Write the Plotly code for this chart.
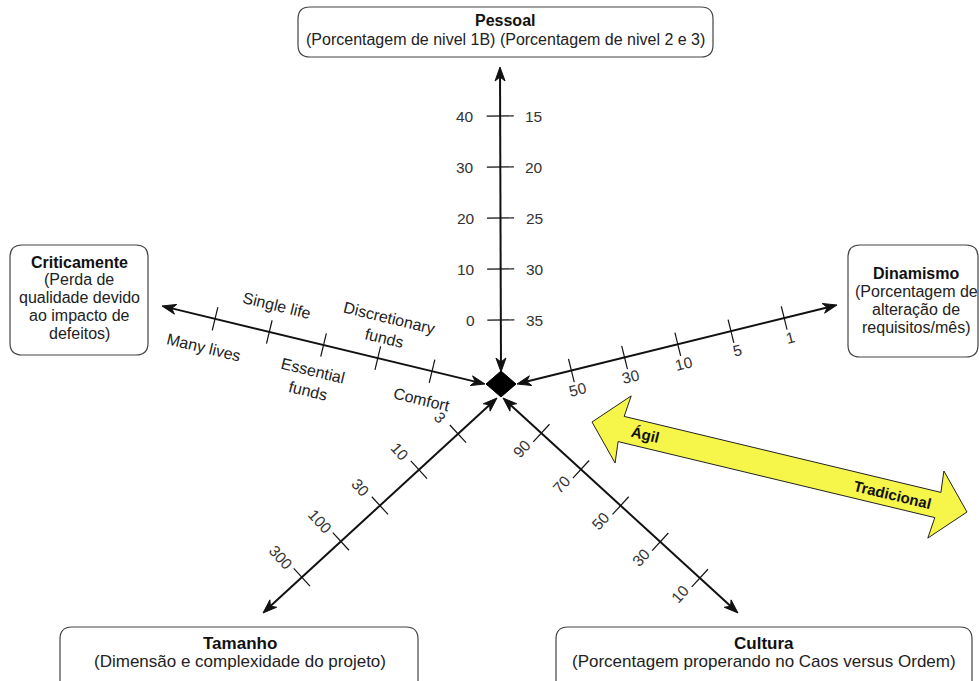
import math
import plotly.graph_objects as go

W, H = 979, 681
FONT = "Liberation Sans"

# ---------------- data (tick labels, from the centre outward) ----------------
pessoal_left = ["0", "10", "20", "30", "40"]
pessoal_right = ["35", "30", "25", "20", "15"]
criticamente_labels = ["Comfort", "Discretionary<br>funds", "Essential<br>funds", "Single life", "Many lives"]
criticamente_side = ["below", "above", "below", "above", "below"]
dinamismo_labels = ["50", "30", "10", "5", "1"]
tamanho_labels = ["3", "10", "30", "100", "300"]
cultura_labels = ["90", "70", "50", "30", "10"]

box_titles = ["Pessoal", "Criticamente", "Dinamismo", "Tamanho", "Cultura"]
box_lines = [
    ["(Porcentagem de nivel 1B) (Porcentagem de nivel 2 e 3)"],
    ["(Perda de", "qualidade devido", "ao impacto de", "defeitos)"],
    ["(Porcentagem de", "alteração de", "requisitos/mês)"],
    ["(Dimensão e complexidade do projeto)"],
    ["(Porcentagem properando no Caos versus Ordem)"],
]
band_labels = ["Ágil", "Tradicional"]

# ---------------- geometry ----------------
# axis: inner tip, outer tip, first tick distance, tick spacing, tick half length
axes_geo = {
    "pessoal": ((501, 372), (500, 67), 52, 51, 13.5),
    "criticamente": ((485, 384), (162, 306), 54.5, 55.8, 12),
    "dinamismo": ((517, 384), (837, 305), 56, 54.8, 12),
    "tamanho": ((497, 398), (263, 613), 53, 53, 12),
    "cultura": ((503, 398), (738, 613), 52, 53.7, 12),
}

shapes = []
annotations = []


def unit(p0, p1):
    dx, dy = p1[0] - p0[0], p1[1] - p0[1]
    L = math.hypot(dx, dy)
    return dx / L, dy / L, L


def arrowhead(tip, ux, uy, length=14, half=5, notch=4):
    bx, by = tip[0] - ux * length, tip[1] - uy * length
    nx, ny = -uy, ux
    lx, ly = bx + nx * half, by + ny * half
    rx, ry = bx - nx * half, by - ny * half
    cx, cy = tip[0] - ux * (length - notch), tip[1] - uy * (length - notch)
    path = f"M{tip[0]},{tip[1]} L{lx},{ly} L{cx},{cy} L{rx},{ry} Z"
    shapes.append(dict(type="path", path=path, xref="x", yref="y",
                       fillcolor="#111", line=dict(color="#111", width=1)))


def draw_axis(name):
    p0, p1, first, step, th = axes_geo[name]
    ux, uy, L = unit(p0, p1)
    shapes.append(dict(type="line", xref="x", yref="y",
                       x0=p0[0] + ux * 8, y0=p0[1] + uy * 8,
                       x1=p1[0] - ux * 8, y1=p1[1] - uy * 8,
                       line=dict(color="#111", width=2)))
    arrowhead(p1, ux, uy)
    arrowhead(p0, -ux, -uy)
    ticks = []
    nx, ny = -uy, ux
    for i in range(5):
        d = first + i * step
        tx, ty = p0[0] + ux * d, p0[1] + uy * d
        shapes.append(dict(type="line", xref="x", yref="y",
                           x0=tx + nx * th, y0=ty + ny * th,
                           x1=tx - nx * th, y1=ty - ny * th,
                           line=dict(color="#111", width=1.2)))
        ticks.append((tx, ty))
    return ticks, ux, uy


def text(x, y, s, size=16, angle=0, bold=False, color="#222", xanchor="center"):
    if bold:
        s = f"<b>{s}</b>"
    annotations.append(dict(x=x, y=y, xref="x", yref="y", text=s, showarrow=False,
                            textangle=angle, xanchor=xanchor, yanchor="middle",
                            font=dict(family=FONT, size=size, color=color)))


# ---- Pessoal (vertical) ----
ticks, ux, uy = draw_axis("pessoal")
for (tx, ty), l, r in zip(ticks, pessoal_left, pessoal_right):
    text(tx - 24, ty, l, size=15.5, xanchor="right", color="#333")
    text(tx + 23, ty, r, size=15.5, xanchor="left", color="#333")

# ---- Criticamente ----
ticks, ux, uy = draw_axis("criticamente")
ang = math.degrees(math.atan2(-uy, -ux))
below = (uy, -ux)
for (tx, ty), lab, side in zip(ticks, criticamente_labels, criticamente_side):
    two = "<br>" in lab
    off = (38 if two else 30) if side == "below" else -(31 if two else 27)
    along = 4 if side == "below" else -1
    x = tx + below[0] * off + ux * along
    y = ty + below[1] * off + uy * along
    text(x, y, lab, angle=ang)

# ---- Dinamismo ----
ticks, ux, uy = draw_axis("dinamismo")
ang = math.degrees(math.atan2(uy, ux))
below = (-uy, ux)
for (tx, ty), lab in zip(ticks, dinamismo_labels):
    x = tx + below[0] * 20 + ux * 1.5
    y = ty + below[1] * 20 + uy * 1.5
    text(x, y, lab, size=15.5, angle=ang, color="#333")

# ---- Tamanho ----
ticks, ux, uy = draw_axis("tamanho")
perp = (-uy, ux)          # towards upper-left
ang = math.degrees(math.atan2(-perp[1], -perp[0]))
for (tx, ty), lab in zip(ticks, tamanho_labels):
    off = 22 + 2.3 * len(lab)
    x = tx + perp[0] * off + ux * 1.8
    y = ty + perp[1] * off + uy * 1.8
    text(x, y, lab, size=15.5, angle=ang, color="#333")

# ---- Cultura ----
ticks, ux, uy = draw_axis("cultura")
perp = (-uy, ux)          # towards lower-left
ang = math.degrees(math.atan2(-perp[1], -perp[0]))
for (tx, ty), lab in zip(ticks, cultura_labels):
    off = 20 + 2.2 * len(lab)
    x = tx + perp[0] * off - ux * 4
    y = ty + perp[1] * off - uy * 4
    text(x, y, lab, size=15.5, angle=ang, color="#333")

# ---- centre diamond ----
cx, cy, hx, hy = 501, 384, 15, 13
shapes.append(dict(type="path", xref="x", yref="y",
                   path=f"M{cx},{cy-hy} L{cx+hx},{cy} L{cx},{cy+hy} L{cx-hx},{cy} Z",
                   fillcolor="#000", line=dict(color="#000", width=1)))


# ---- rounded boxes ----
def rbox(x0, y0, x1, y1, r=12):
    p = (f"M{x0+r},{y0} L{x1-r},{y0} Q{x1},{y0} {x1},{y0+r} "
         f"L{x1},{y1-r} Q{x1},{y1} {x1-r},{y1} L{x0+r},{y1} Q{x0},{y1} {x0},{y1-r} "
         f"L{x0},{y0+r} Q{x0},{y0} {x0+r},{y0} Z")
    shapes.append(dict(type="path", path=p, xref="x", yref="y",
                       fillcolor="rgba(0,0,0,0)", line=dict(color="#444", width=1.2)))


# rect, text centre x, title y, line height, font size
box_geo = [
    ((298, 7, 713, 57), 505, 20, 19, 16),
    ((10, 245, 148, 355), 79, 262, 17.8, 16),
    ((848, 245, 978, 357), 916, 273, 18, 16),
    ((60, 627, 418, 700), 240, 643, 18.5, 17),
    ((556, 627, 972, 700), 764, 643, 18.5, 17),
]
for (rect, tcx, ty0, lh, fs), title, lines in zip(box_geo, box_titles, box_lines):
    rbox(*rect)
    text(tcx, ty0, title, size=fs, bold=True, color="#111")
    for k, ln in enumerate(lines):
        text(tcx, ty0 + lh * (k + 1), ln, size=fs, color="#222")

# ---- yellow Ágil / Tradicional band ----
a0, a1 = (592, 422), (967, 512)
ux, uy, L = unit(a0, a1)
nx, ny = -uy, ux
hl, hw, sw = 30, 34.5, 13


def pt(along, norm):
    return a0[0] + ux * along + nx * norm, a0[1] + uy * along + ny * norm


pts = [pt(0, 0), pt(hl + 2, -hw), pt(hl, -sw), pt(L - hl, -sw), pt(L - hl - 2, -hw),
       pt(L, 0), pt(L - hl - 2, hw), pt(L - hl, sw), pt(hl, sw), pt(hl + 2, hw)]
path = "M" + " L".join(f"{x:.1f},{y:.1f}" for x, y in pts) + " Z"
shapes.append(dict(type="path", path=path, xref="x", yref="y",
                   fillcolor="#f6f54a", line=dict(color="#222", width=1)))
bang = math.degrees(math.atan2(uy, ux))
lx, ly = pt(55, 0)
text(lx, ly, band_labels[0], size=15, angle=bang, bold=True, color="#111")
rx, ry = pt(L - 77, 0)
text(rx, ry, band_labels[1], size=15, angle=bang, bold=True, color="#111")

fig = go.Figure()
fig.update_layout(
    width=W, height=H, margin=dict(l=0, r=0, t=0, b=0),
    paper_bgcolor="white", plot_bgcolor="white",
    xaxis=dict(range=[0, W], visible=False, fixedrange=True),
    yaxis=dict(range=[H, 0], visible=False, fixedrange=True),
    shapes=shapes, annotations=annotations, showlegend=False,
)
fig.write_html("out.html", config={"displayModeBar": False},
               post_script="document.body.style.margin='0';document.body.style.overflow='hidden';")
